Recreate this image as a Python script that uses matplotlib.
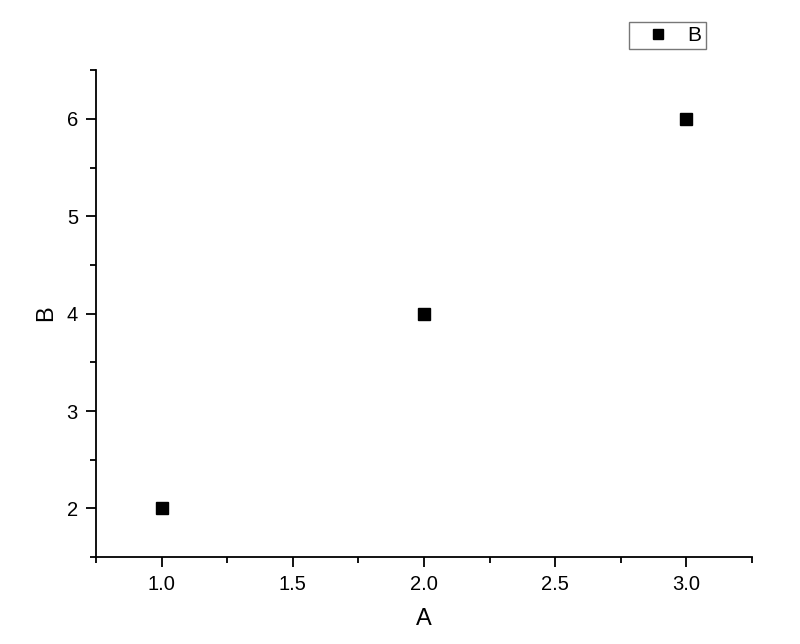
import numpy as np
import matplotlib
matplotlib.use('Agg')
from matplotlib import pyplot as plt
from matplotlib.ticker import MultipleLocator

# data
a_vals = [1.0, 2.0, 3.0]
b_vals = [2, 4, 6]

plt.rcParams['font.family'] = ['Liberation Sans', 'DejaVu Sans']

fig = plt.figure(figsize=(8, 6.44), dpi=100)
ax = fig.add_axes([0.12, 0.135, 0.82, 0.756])

ax.plot(a_vals, b_vals, 's', color='black', markersize=8, label='B')

ax.set_xlim(0.75, 3.25)
ax.set_ylim(1.5, 6.5)
ax.xaxis.set_major_locator(MultipleLocator(0.5))
ax.xaxis.set_minor_locator(MultipleLocator(0.25))
ax.yaxis.set_major_locator(MultipleLocator(1))
ax.yaxis.set_minor_locator(MultipleLocator(0.5))
ax.xaxis.set_major_formatter(matplotlib.ticker.FormatStrFormatter('%.1f'))

for side in ['top', 'right']:
    ax.spines[side].set_visible(False)
for side in ['left', 'bottom']:
    ax.spines[side].set_linewidth(1.3)

ax.tick_params(which='major', direction='out', length=7, width=1.3, labelsize=14.5, pad=6)
ax.tick_params(which='minor', direction='out', length=4, width=1.3)

ax.set_xlabel('A', fontsize=17, labelpad=10)
ax.set_ylabel('B', fontsize=17, labelpad=7)

leg = fig.legend(loc='upper left', bbox_to_anchor=(629/800, 1 - 22/644), fontsize=15,
                 frameon=True, fancybox=False, borderpad=0.2, handletextpad=0.2,
                 markerscale=0.95, handlelength=2.4, borderaxespad=0)
leg.get_frame().set_edgecolor('#555555')
leg.get_frame().set_linewidth(1.0)

plt.savefig('out.png', dpi=100)
